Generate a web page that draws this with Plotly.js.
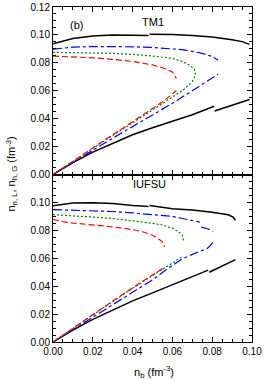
<!DOCTYPE html>
<html><head><meta charset="utf-8">
<script src="https://cdn.plot.ly/plotly-3.0.1.min.js"></script>
<style>html,body{margin:0;padding:0;background:#fff}#chart{width:266px;height:380px}</style>
</head><body><div id="chart"></div>
<script>
// ---- TM1 (top panel) ----
const tm1BlackUpX = [0, 0.005, 0.01, 0.02, 0.03, 0.04, 0.048, 0.048, 0.0485, 0.06, 0.07, 0.08, 0.09, 0.095, 0.0987];
const tm1BlackUpY = [0.0937, 0.0958, 0.0975, 0.0993, 0.1, 0.0998, 0.0996, null, 0.1005, 0.1003, 0.0995, 0.0985, 0.0965, 0.0952, 0.0932];
const tm1BlackLoX = [0, 0.01, 0.02, 0.03, 0.04, 0.05, 0.06, 0.07, 0.081, 0.081, 0.0812, 0.09, 0.0988];
const tm1BlackLoY = [0, 0.0085, 0.016, 0.0225, 0.0285, 0.0335, 0.0382, 0.0428, 0.0489, null, 0.0455, 0.0498, 0.0537];
const tm1BlueUpX = [0, 0.01, 0.02, 0.03, 0.04, 0.05, 0.06, 0.065, 0.07, 0.075, 0.08, 0.083];
const tm1BlueUpY = [0.0898, 0.0912, 0.0917, 0.0918, 0.0915, 0.091, 0.0902, 0.0894, 0.0882, 0.0868, 0.0845, 0.0819];
const tm1BlueLoX = [0, 0.01, 0.02, 0.03, 0.04, 0.05, 0.06, 0.07, 0.08, 0.083];
const tm1BlueLoY = [0, 0.0088, 0.0175, 0.026, 0.0343, 0.0425, 0.051, 0.06, 0.069, 0.0719];
const tm1GreenX = [0, 0.01, 0.02, 0.03, 0.04, 0.05, 0.06, 0.065, 0.069, 0.071, 0.0716, 0.0712, 0.07, 0.065, 0.06, 0.05, 0.04, 0.03, 0.02, 0.01, 0];
const tm1GreenY = [0.0875, 0.0874, 0.0872, 0.0868, 0.086, 0.0849, 0.0832, 0.081, 0.078, 0.0755, 0.0732, 0.070, 0.0665, 0.060, 0.0555, 0.046, 0.037, 0.028, 0.0188, 0.0095, 0];
const tm1RedUpX = [0, 0.01, 0.02, 0.03, 0.04, 0.05, 0.055, 0.06, 0.062];
const tm1RedUpY = [0.0848, 0.0843, 0.0836, 0.0825, 0.081, 0.0785, 0.0765, 0.0735, 0.0688];
const tm1RedLoX = [0, 0.01, 0.02, 0.03, 0.04, 0.05, 0.055, 0.062];
const tm1RedLoY = [0, 0.0097, 0.0192, 0.0285, 0.0378, 0.047, 0.052, 0.060];

// ---- IUFSU (bottom panel) ----
const iuBlackUpX = [0, 0.005, 0.01, 0.02, 0.03, 0.04, 0.048, 0.048, 0.0485, 0.06, 0.07, 0.08, 0.088, 0.0905, 0.0917];
const iuBlackUpY = [0.0976, 0.0988, 0.0995, 0.0998, 0.0992, 0.0978, 0.097, null, 0.0978, 0.0955, 0.0945, 0.093, 0.0912, 0.0895, 0.0871];
const iuBlackLoX = [0, 0.01, 0.02, 0.03, 0.04, 0.05, 0.06, 0.07, 0.078, 0.078, 0.0785, 0.085, 0.0917];
const iuBlackLoY = [0, 0.0085, 0.0162, 0.023, 0.0295, 0.0352, 0.041, 0.047, 0.0515, null, 0.050, 0.0542, 0.059];
const iuBlueUpX = [0, 0.01, 0.02, 0.03, 0.04, 0.05, 0.06, 0.065, 0.07, 0.0738, 0.0738, 0.0745, 0.078, 0.0804];
const iuBlueUpY = [0.0948, 0.0945, 0.094, 0.0935, 0.0925, 0.0912, 0.09, 0.0885, 0.0868, 0.0859, null, 0.0823, 0.081, 0.0792];
const iuBlueLoX = [0, 0.01, 0.02, 0.03, 0.04, 0.05, 0.0587, 0.065, 0.07, 0.0775, 0.079, 0.0804];
const iuBlueLoY = [0, 0.0088, 0.0175, 0.0265, 0.0355, 0.0445, 0.0537, 0.0595, 0.0628, 0.067, 0.069, 0.0715];
const iuGreenUpX = [0, 0.01, 0.02, 0.03, 0.04, 0.05, 0.055, 0.06, 0.063, 0.065, 0.0656];
const iuGreenUpY = [0.0912, 0.0905, 0.0895, 0.0885, 0.087, 0.085, 0.0838, 0.0815, 0.079, 0.0765, 0.0725];
const iuGreenLoX = [0, 0.01, 0.02, 0.03, 0.04, 0.05, 0.06, 0.0648];
const iuGreenLoY = [0, 0.0098, 0.0195, 0.029, 0.0385, 0.0475, 0.0565, 0.061];
const iuRedUpX = [0, 0.005, 0.01, 0.02, 0.03, 0.04, 0.045, 0.05, 0.053, 0.0555, 0.056];
const iuRedUpY = [0.0878, 0.0862, 0.0852, 0.0838, 0.0825, 0.0805, 0.079, 0.0765, 0.074, 0.071, 0.068];
const iuRedLoX = [0, 0.01, 0.02, 0.03, 0.04, 0.05, 0.056];
const iuRedLoY = [0, 0.0099, 0.0197, 0.0293, 0.0388, 0.048, 0.0535];

const xTicks = [0, 0.02, 0.04, 0.06, 0.08, 0.10];
const xTickText = ['0.00', '0.02', '0.04', '0.06', '0.08', '0.10'];
const yTicksTop = [0, 0.02, 0.04, 0.06, 0.08, 0.10, 0.12];
const yTickTextTop = ['0.00', '0.02', '0.04', '0.06', '0.08', '0.10', '0.12'];
const yTicksBot = [0, 0.02, 0.04, 0.06, 0.08, 0.10];
const yTickTextBot = ['0.00', '0.02', '0.04', '0.06', '0.08', '0.10'];

const sBlack = {color: '#000000', width: 1.5};
const sBlue = {color: '#0000ff', width: 1.2, dash: 'dashdot'};
const sGreen = {color: '#008000', width: 1.2, dash: '2px,2px'};
const sRed = {color: '#ff0000', width: 1.2, dash: '6px,3px'};

function tr(x, y, line, top) {
  return {x: x, y: y, type: 'scatter', mode: 'lines', line: line, connectgaps: false,
          xaxis: top ? 'x2' : 'x', yaxis: top ? 'y2' : 'y', showlegend: false, hoverinfo: 'skip'};
}
const data = [
  tr(tm1BlackUpX, tm1BlackUpY, sBlack, true), tr(tm1BlackLoX, tm1BlackLoY, sBlack, true),
  tr(tm1BlueUpX, tm1BlueUpY, sBlue, true), tr(tm1BlueLoX, tm1BlueLoY, sBlue, true),
  tr(tm1GreenX, tm1GreenY, sGreen, true),
  tr(tm1RedUpX, tm1RedUpY, sRed, true), tr(tm1RedLoX, tm1RedLoY, sRed, true),
  tr(iuBlackUpX, iuBlackUpY, sBlack, false), tr(iuBlackLoX, iuBlackLoY, sBlack, false),
  tr(iuBlueUpX, iuBlueUpY, sBlue, false), tr(iuBlueLoX, iuBlueLoY, sBlue, false),
  tr(iuGreenUpX, iuGreenUpY, sGreen, false), tr(iuGreenLoX, iuGreenLoY, sGreen, false),
  tr(iuRedUpX, iuRedUpY, sRed, false), tr(iuRedLoX, iuRedLoY, sRed, false)
];

const font = {family: 'Liberation Sans, Arial, sans-serif', size: 10, color: '#000'};
const axBase = {
  showline: true, linecolor: '#000', linewidth: 1, mirror: 'allticks',
  ticks: 'inside', ticklen: 5, tickwidth: 1, tickcolor: '#000',
  showgrid: false, zeroline: false, tickfont: font,
  minor: {dtick: 0.005, ticks: 'inside', ticklen: 3, tickwidth: 1, tickcolor: '#000', showgrid: false}
};
const layout = {
  width: 266, height: 380,
  margin: {l: 53, r: 14, t: 7, b: 38},
  paper_bgcolor: '#fff', plot_bgcolor: '#fff',
  font: font,
  xaxis: Object.assign({}, axBase, {range: [0, 0.10], tickvals: xTicks, ticktext: xTickText, anchor: 'y'}),
  yaxis: Object.assign({}, axBase, {range: [0, 0.12], domain: [0, 0.5], tickvals: yTicksBot, ticktext: yTickTextBot, anchor: 'x'}),
  xaxis2: Object.assign({}, axBase, {range: [0, 0.10], tickvals: xTicks, showticklabels: false, anchor: 'y2', matches: 'x'}),
  yaxis2: Object.assign({}, axBase, {range: [0, 0.12], domain: [0.5, 1], tickvals: yTicksTop, ticktext: yTickTextTop, anchor: 'x2'}),
  annotations: [
    {text: '(b)', xref: 'x2', yref: 'y2', x: 0.012, y: 0.1068, showarrow: false, font: {family: font.family, size: 11, color: '#000'}},
    {text: 'TM1', xref: 'x2', yref: 'y2', x: 0.05, y: 0.1095, showarrow: false, font: {family: font.family, size: 11, color: '#000'}},
    {text: 'IUFSU', xref: 'x', yref: 'y', x: 0.0485, y: 0.1135, showarrow: false, font: {family: font.family, size: 11, color: '#000'}},
    {text: 'n<sub>b</sub> (fm<sup>-3</sup>)', xref: 'paper', yref: 'paper', x: 0.51, y: 0,
     xanchor: 'center', yanchor: 'top', yshift: -20, showarrow: false,
     font: {family: font.family, size: 11, color: '#000'}},
    {text: 'n<sub>n, L</sub>, n<sub>h, G</sub> (fm<sup>-3</sup>)', xref: 'paper', yref: 'paper', x: 0, y: 0.5,
     xanchor: 'center', yanchor: 'middle', xshift: -42, textangle: -90, showarrow: false,
     font: {family: font.family, size: 11, color: '#000'}}
  ]
};
Plotly.newPlot('chart', data, layout, {staticPlot: true, displayModeBar: false});
</script>
</body></html>
